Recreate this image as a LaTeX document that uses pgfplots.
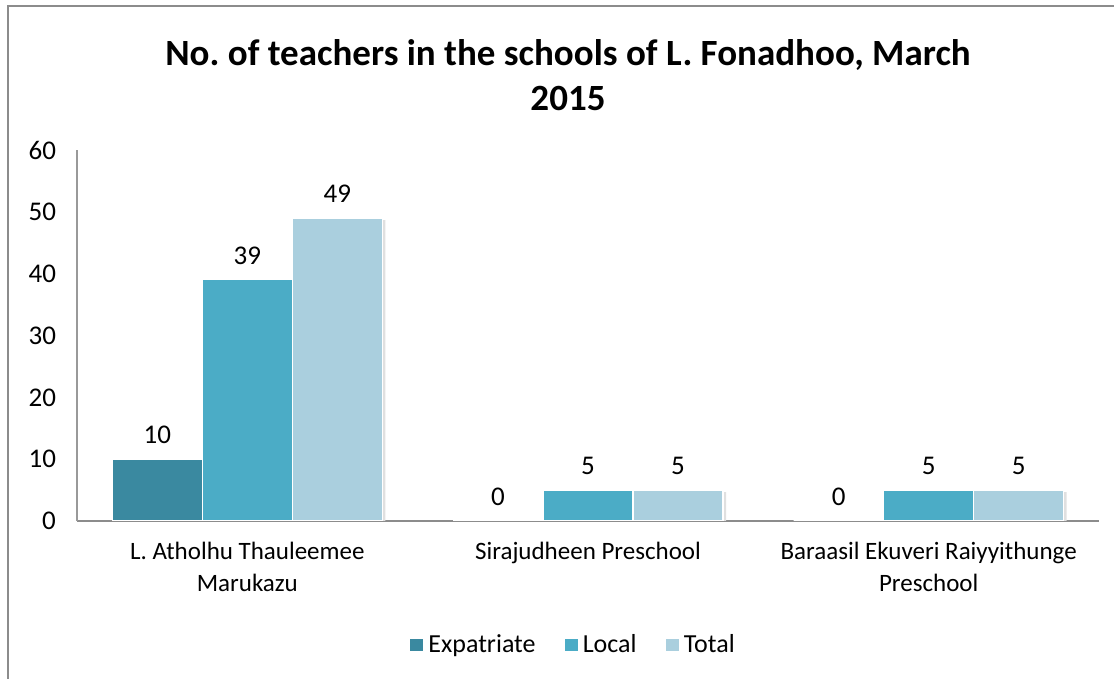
\documentclass[border=0pt]{standalone}
\usepackage{fontspec}
\setmainfont{Carlito}
\usepackage{pgfplots}
\pgfplotsset{compat=1.18}
\definecolor{expat}{HTML}{3A89A0}
\definecolor{local}{HTML}{4BACC6}
\definecolor{total}{HTML}{AACFDE}
\definecolor{framegray}{HTML}{8C8C8C}

\pgfplotstableread{
x expat local total
0 10 39 49
1 0 5 5
2 0 5 5
}\teachers

\begin{document}
\begin{tikzpicture}
\begin{axis}[
  at={(38.5pt,79pt)}, anchor=south west,
  scale only axis,
  width=511pt, height=185.5pt,
  /pgf/number format/assume math mode=true,
  ybar, bar width=45pt,
  xmin=-0.5, xmax=2.5,
  ymin=0, ymax=60,
  ytick={0,10,...,60},
  xtick={0,1,2},
  xticklabels={{L. Atholhu Thauleemee\\Marukazu},{Sirajudheen Preschool},{Baraasil Ekuveri Raiyyithunge\\Preschool}},
  major tick length=0pt,
  axis x line*=bottom, axis y line*=left,
  x axis line style={-, draw=black!45, line width=1.1pt},
  y axis line style={-, draw=black!40, line width=0.6pt},
  ticklabel style={font=\fontsize{13.5}{16}\selectfont, color=black},
  yticklabel style={xshift=-7pt},
  xticklabel style={align=center, yshift=-7pt, font=\fontsize{12.5}{16}\selectfont},
  nodes near coords,
  every node near coord/.append style={font=\fontsize{13.5}{16}\selectfont, color=black, yshift=4pt},
  legend columns=3,
  legend style={at={(axis description cs:0.5,0)}, anchor=center, yshift=-62pt, xshift=-7pt,
    draw=none, fill=none, font=\fontsize{13}{15}\selectfont,
    /tikz/every even column/.append style={column sep=12pt}},
  legend image code/.code={\fill[#1] (0pt,-3.5pt) rectangle (7pt,3.5pt);},
]
\addplot[fill=black!12, draw=none, bar shift=-43.5pt, yshift=-1pt, forget plot, nodes near coords={}] table[x=x, y=expat] {\teachers};
\addplot[fill=black!12, draw=none, bar shift=1.5pt, yshift=-1pt, forget plot, nodes near coords={}] table[x=x, y=local] {\teachers};
\addplot[fill=black!12, draw=none, bar shift=46.5pt, yshift=-1pt, forget plot, nodes near coords={}] table[x=x, y=total] {\teachers};
\addplot[fill=expat, draw=white, line width=0.6pt, bar shift=-45pt] table[x=x, y=expat] {\teachers};
\addlegendentry{Expatriate}
\addplot[fill=local, draw=white, line width=0.6pt, bar shift=0pt] table[x=x, y=local] {\teachers};
\addlegendentry{Local}
\addplot[fill=total, draw=white, line width=0.6pt, bar shift=45pt] table[x=x, y=total] {\teachers};
\addlegendentry{Total}
\end{axis}
\node[align=center, font=\bfseries\fontsize{18.5}{22.5}\selectfont] at (284pt,302pt)
  {No.\ of teachers in the schools of L. Fonadhoo, March\\2015};
\draw[framegray, line width=0.8pt] (4pt,-2pt) -- (4pt,336.5pt) -- (560pt,336.5pt);
\pgfresetboundingbox
\path[use as bounding box] (0,0) rectangle (557pt,339.5pt);
\end{tikzpicture}
\end{document}
